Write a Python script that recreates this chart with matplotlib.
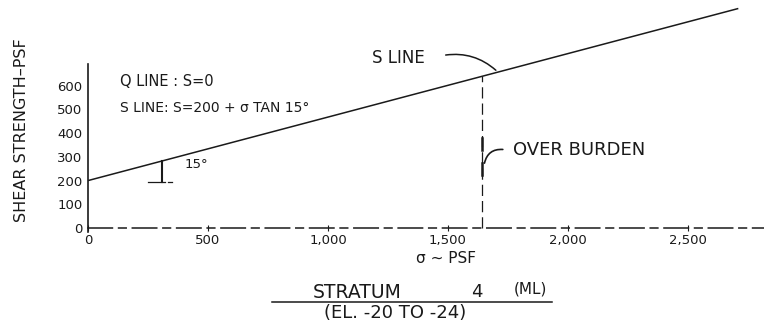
import numpy as np
import matplotlib
matplotlib.use("Agg")
import matplotlib.pyplot as plt

# Strength envelope: S = c + sigma * tan(phi)
COHESION = 200          # psf
PHI_DEG = 15            # degrees
SIGMA_END = 2710        # psf, end of drawn envelope
OVERBURDEN = 1640       # psf

x_ticks = [0, 500, 1000, 1500, 2000, 2500]
x_tick_labels = ["0", "500", "1,000", "1,500", "2,000", "2,500"]
y_ticks = [0, 100, 200, 300, 400, 500, 600]
y_tick_labels = ["0", "100", "200", "300", "400", "500", "600"]

INK = "#1a1a1a"
FONT = "DejaVu Sans"

def strength(sigma):
    return COHESION + np.asarray(sigma) * np.tan(np.radians(PHI_DEG))

fig = plt.figure(figsize=(7.64, 3.27), dpi=100)
ax = fig.add_axes([0, 0, 1, 1])
ax.set_xlim(-367, 2817)
ax.set_ylim(-418, 962)
ax.patch.set_alpha(0)

# axes drawn as spines through the origin
for side in ("top", "right"):
    ax.spines[side].set_visible(False)
ax.spines["left"].set_position(("data", 0))
ax.spines["bottom"].set_position(("data", 0))
ax.spines["left"].set_bounds(-15, 690)
ax.spines["bottom"].set_bounds(0, 2817)
ax.spines["left"].set_linewidth(1.2)
ax.spines["left"].set_color(INK)
ax.spines["bottom"].set_linewidth(1.1)
ax.spines["bottom"].set_color(INK)
ax.spines["bottom"].set_linestyle((0, (16, 4, 5, 4)))

ax.set_xticks(x_ticks)
ax.set_xticklabels(x_tick_labels, fontsize=9.5, family=FONT, color=INK)
ax.set_yticks(y_ticks)
ax.set_yticklabels(y_tick_labels, fontsize=9.5, family=FONT, color=INK)
ax.tick_params(axis="x", length=5, width=0.8, direction="inout", pad=2, colors=INK)
ax.tick_params(axis="y", length=0, pad=4, colors=INK)

# S line
sig = np.array([0, SIGMA_END])
ax.plot(sig, strength(sig), color=INK, lw=1.1, solid_capstyle="butt")

# overburden pressure marker
s_ob = float(strength(OVERBURDEN))
ax.plot([OVERBURDEN, OVERBURDEN], [0, s_ob], color=INK, lw=0.9,
        linestyle=(0, (9, 4)))
ax.plot([OVERBURDEN, OVERBURDEN], [330, 380], color=INK, lw=1.8)
ax.plot([OVERBURDEN, OVERBURDEN], [225, 275], color=INK, lw=1.8)
ax.annotate("", xy=(OVERBURDEN + 10, 262), xytext=(1740, 330),
            arrowprops=dict(arrowstyle="-", color=INK, lw=1.2,
                            connectionstyle="arc3,rad=0.5"))
ax.text(1771, 329, "OVER BURDEN", fontsize=13, family=FONT, color=INK,
        va="center", ha="left")

# 15 degree angle marker
ax.plot([310, 310], [strength(310), COHESION - 6], color=INK, lw=1.5)
ax.plot([250, 320], [COHESION - 5, COHESION - 5], color=INK, lw=0.9)
ax.plot([335, 350], [COHESION - 5, COHESION - 5], color=INK, lw=0.9)
ax.text(404, 266, f"{PHI_DEG}°", fontsize=9.5, family=FONT, color=INK,
        va="center", ha="left")

# envelope labels
ax.text(133, 616, "Q LINE : S=0", fontsize=10.5, family=FONT, color=INK,
        va="center", ha="left")
ax.text(133, 506, f"S LINE: S={COHESION} + σ TAN {PHI_DEG}°", fontsize=10,
        family=FONT, color=INK, va="center", ha="left")
ax.text(1183, 717, "S LINE", fontsize=12, family=FONT, color=INK,
        va="center", ha="left")
ax.annotate("", xy=(1708, float(strength(1708))), xytext=(1479, 728),
            arrowprops=dict(arrowstyle="-", color=INK, lw=1.1,
                            connectionstyle="arc3,rad=-0.25"))

# axis titles
ax.text(1490, -128, "σ ~ PSF", fontsize=11, family=FONT, color=INK,
        va="center", ha="center")
fig.text(22 / 764, 1 - 130 / 327, "SHEAR STRENGTH–PSF", rotation=90,
         fontsize=11.5, family=FONT, color=INK, ha="center", va="center")

# stratum caption
fig.text(357 / 764, 1 - 292 / 327, "STRATUM", fontsize=13.5, family=FONT,
         color=INK, ha="center", va="center")
fig.text(477 / 764, 1 - 292 / 327, "4", fontsize=13, family=FONT,
         color=INK, ha="center", va="center")
fig.text(530 / 764, 1 - 289 / 327, "(ML)", fontsize=11, family=FONT,
         color=INK, ha="center", va="center")
fig.add_artist(plt.Line2D([272 / 764, 552 / 764], [1 - 302 / 327, 1 - 302 / 327],
                          color=INK, lw=1.1))
fig.text(395 / 764, 1 - 313 / 327, "(EL. -20 TO -24)", fontsize=13,
         family=FONT, color=INK, ha="center", va="center")

fig.savefig("out.png", dpi=100, facecolor="white")
